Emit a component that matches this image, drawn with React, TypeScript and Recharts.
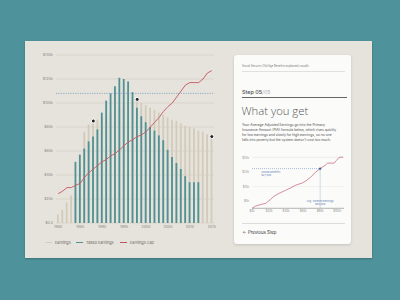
import React from "react";
import {
  ComposedChart,
  LineChart,
  Bar,
  Line,
  XAxis,
  YAxis,
  CartesianGrid,
  ReferenceLine,
  ReferenceDot,
  Label,
} from "recharts";

// career chart, values in $k
const years = [
  1980, 1981, 1982, 1983, 1984, 1985, 1986, 1987, 1988, 1989, 1990, 1991,
  1992, 1993, 1994, 1995, 1996, 1997, 1998, 1999, 2000, 2001, 2002, 2003,
  2004, 2005, 2006, 2007, 2008, 2009, 2010, 2011, 2012, 2013, 2014, 2015,
];
const earnings = [
  7, 11, 17, 23, 30, 50, 76, 82, 85, 86, 88, 90, 92, 94, 96, 98, 100, 101,
  103, 100, 98, 96, 94, 92, 90, 88, 86, 85, 83, 81, 80, 79, 77, 76, 74, 72,
];
const taxedEarnings = [
  null, null, null, null, 51, 57, 62, 68, 72, 78, 92, 102, 108, 114, 121, 120,
  118, 109, 96, 89, 84, 80, 77, 73, 69, 61, 55, 50, 45, 39, 34, 34, 34, null,
  null, null,
];
const earningsCap = [
  24.5, 26.5, 29.5, 29.5, 31.5, 33, 38, 42, 45, 48, 51, 53, 56, 58, 61, 64.5,
  67.5, 69.5, 72, 73.5, 76, 80, 84, 88, 93, 97, 100, 105, 110, 115, 117, 117,
  117, 120, 125, 127,
];
const yTicks = [0, 20, 40, 60, 80, 100, 120, 140];
const averageLevel = 108;
const markedYears = [1988, 1998, 2015];

// PIA formula chart, values in $k
const piaEarnings = [
  0, 4.4, 12.1, 16.1, 22, 25.9, 31.8, 39.6, 45.5, 51.4, 59.2, 63.2, 69, 75,
  80, 85.9, 88.6, 96.5, 99.2, 102.4, 107,
];
const piaBenefits = [
  0, 1.6, 2.9, 3.4, 6.2, 8.4, 10.3, 12.5, 14.1, 16, 17.5, 18.9, 21.6, 25.1,
  27.4, 29.7, 31.2, 31.2, 33.1, 35.3, 35.3,
];
const piaYTicks = [0, 5, 10, 15, 20, 25, 30, 35];
const piaXTicks = [0, 20, 40, 60, 80, 100];
const yourAverage = 80;
const yourBenefit = 27.4;

const careerData = years.map((year, i) => ({
  year,
  earnings: earnings[i],
  taxed: taxedEarnings[i],
  cap: earningsCap[i],
}));
const piaData = piaEarnings.map((x, i) => ({ x, y: piaBenefits[i] }));

const TEAL = "#4f9194";
const TAN = "#d2cbbb";
const RED = "#c4565b";
const BLUE = "#6e8fc0";
const FONT = 'Inter, "Noto Sans", Roboto, sans-serif';

const legendItems = [
  { label: "Earnings", color: "#d3cec4", left: 45 },
  { label: "Taxed Earnings", color: TEAL, left: 76 },
  { label: "Earnings Cap", color: RED, left: 120 },
];

const paragraph = [
  "Your Average Adjusted Earnings go into the Primary",
  "Insurance Amount (PIA) formula below, which rises quickly",
  "for low earnings and slowly for high earnings, so no one",
  "falls into poverty but the system doesn't cost too much.",
];

const money = (v: number) => "$" + Math.round(v * 1000).toLocaleString("en-US");

export default function App() {
  return (
    <div
      style={{
        position: "absolute",
        left: 0,
        top: 0,
        width: 400,
        height: 300,
        overflow: "hidden",
        background: "#4e939b",
        fontFamily: FONT,
      }}
    >
      <div
        style={{
          position: "absolute",
          left: 25,
          top: 41,
          width: 347,
          height: 217,
          background: "#e6e3dc",
          boxShadow: "0 1px 2px rgba(0,0,0,0.25)",
        }}
      />

      <div style={{ position: "absolute", left: 0, top: 0 }}>
        <ComposedChart
          width={230}
          height={250}
          data={careerData}
          margin={{ top: 55, right: 16, bottom: 17, left: 36 }}
        >
          <CartesianGrid xAxisId="a" vertical={false} stroke="#d3cfc5" strokeWidth={0.6} />
          <XAxis
            xAxisId="a"
            dataKey="year"
            interval={4}
            height={10}
            tickLine={false}
            axisLine={false}
            tickSize={0}
            tickMargin={2}
            tick={{ fontSize: 3.6, fill: "#8a877f", fontFamily: FONT }}
          />
          <XAxis xAxisId="b" dataKey="year" hide />
          <YAxis
            domain={[0, 140]}
            ticks={yTicks}
            width={20}
            tickLine={false}
            axisLine={false}
            tickSize={0}
            tickMargin={3}
            tick={{ fontSize: 3.6, fill: "#8a877f", fontFamily: FONT }}
            tickFormatter={(v: number) => (v === 0 ? "$0.0" : `$${v}k`)}
          />
          <Bar xAxisId="a" dataKey="earnings" fill={TAN} barSize={1.8} isAnimationActive={false} />
          <Bar xAxisId="b" dataKey="taxed" fill={TEAL} barSize={1.8} isAnimationActive={false} />
          <ReferenceLine
            xAxisId="a"
            y={averageLevel}
            stroke={BLUE}
            strokeWidth={0.7}
            strokeDasharray="1.2 1.2"
          />
          <Line
            xAxisId="a"
            dataKey="cap"
            type="linear"
            stroke={RED}
            strokeWidth={0.9}
            dot={false}
            isAnimationActive={false}
          />
          {markedYears.map((yr) => (
            <ReferenceDot
              key={yr}
              xAxisId="a"
              x={yr}
              y={earnings[years.indexOf(yr)]}
              r={2}
              fill="#262626"
              stroke="#ffffff"
              strokeWidth={1}
            />
          ))}
        </ComposedChart>
      </div>

      {legendItems.map((it) => (
        <div
          key={it.label}
          style={{
            position: "absolute",
            left: it.left,
            top: 240,
            height: 5,
            display: "flex",
            alignItems: "center",
            whiteSpace: "nowrap",
          }}
        >
          <div style={{ width: 7, height: 1.4, background: it.color, marginRight: 3 }} />
          <span style={{ fontSize: 3.8, color: "#6f6c66" }}>{it.label}</span>
        </div>
      ))}

      <div
        style={{
          position: "absolute",
          left: 234,
          top: 55,
          width: 117,
          height: 189,
          borderRadius: 3,
          background: "#fbfbfa",
          boxShadow: "0 1px 3px rgba(0,0,0,0.14)",
        }}
      />

      <div
        style={{
          position: "absolute",
          left: 242,
          top: 64,
          fontSize: 2.8,
          color: "#7a7a7a",
          whiteSpace: "nowrap",
          lineHeight: "4px",
        }}
      >
        Social Security Old Age Benefits explained visually
      </div>
      <div style={{ position: "absolute", left: 242, top: 71, width: 103, height: 0.5, background: "#e0e0e0" }} />

      <div
        style={{
          position: "absolute",
          left: 242,
          top: 89,
          fontSize: 5.4,
          lineHeight: "7px",
          whiteSpace: "nowrap",
          color: "#4a4a4a",
          fontWeight: 500,
        }}
      >
        Step 05<span style={{ color: "#b0b0b0", fontWeight: 400 }}>/05</span>
      </div>
      <div style={{ position: "absolute", left: 242, top: 97.3, width: 105, height: 0.7, background: "#666" }} />

      <div
        style={{
          position: "absolute",
          left: 241.5,
          top: 103,
          fontSize: 11.3,
          lineHeight: "15px",
          fontWeight: 300,
          fontFamily: '"Open Sans", Lato, sans-serif',
          color: "#555555",
          whiteSpace: "nowrap",
        }}
      >
        What you get
      </div>

      <div style={{ position: "absolute", left: 242, top: 123.2, color: "#505050" }}>
        {paragraph.map((line) => (
          <div key={line} style={{ fontSize: 3.4, lineHeight: "5px", whiteSpace: "nowrap" }}>
            {line}
          </div>
        ))}
      </div>

      <div style={{ position: "absolute", left: 230, top: 150 }}>
        <LineChart
          width={120}
          height={70}
          data={piaData}
          margin={{ top: 7.2, right: 6, bottom: 3.7, left: 10 }}
        >
          <CartesianGrid vertical={false} stroke="#e8e8e8" strokeWidth={0.5} />
          <XAxis
            dataKey="x"
            type="number"
            domain={[0, 108]}
            ticks={piaXTicks}
            height={8}
            tickLine={false}
            axisLine={{ stroke: "#8c8c8c", strokeWidth: 0.6 }}
            tickSize={0}
            tickMargin={2}
            tick={{ fontSize: 2.8, fill: "#8f8f8f", fontFamily: FONT }}
            tickFormatter={(v: number) => `$${v}k`}
          />
          <YAxis
            domain={[0, 35]}
            ticks={piaYTicks}
            width={12}
            tickLine={false}
            axisLine={false}
            tickSize={0}
            tickMargin={3}
            tick={{ fontSize: 2.8, fill: "#8f8f8f", fontFamily: FONT }}
            tickFormatter={(v: number) => `$${v}k`}
          />
          <ReferenceLine
            segment={[
              { x: 0, y: yourBenefit },
              { x: yourAverage, y: yourBenefit },
            ]}
            stroke={BLUE}
            strokeWidth={0.6}
            strokeDasharray="1 1"
          />
          <ReferenceLine
            segment={[
              { x: yourAverage, y: yourBenefit },
              { x: yourAverage, y: 0 },
            ]}
            stroke={BLUE}
            strokeWidth={0.6}
            strokeDasharray="1 1"
          />
          <Line
            dataKey="y"
            type="linear"
            stroke="#c8747c"
            strokeWidth={0.8}
            dot={false}
            isAnimationActive={false}
          />
          <ReferenceDot x={yourAverage} y={yourBenefit} r={1.2} fill="#3f63a0" stroke="none">
            <Label
              content={(p: any) => {
                const vb = p.viewBox || {};
                const cx = vb.x + (vb.width || 0) / 2;
                const cy = vb.y + (vb.height || 0) / 2;
                return (
                  <g fontFamily={FONT} fontSize={2.6} fill="#5d7fb3">
                    <text x={cx - 59} y={cy + 4}>Annual benefits</text>
                    <text x={cx - 59} y={cy + 7.6}>{money(yourBenefit)}</text>
                    <text x={cx} y={cy + 33} textAnchor="middle">Avg. indexed earnings</text>
                    <text x={cx} y={cy + 36.6} textAnchor="middle">{money(yourAverage)}</text>
                  </g>
                );
              }}
            />
          </ReferenceDot>
        </LineChart>
      </div>

      <div style={{ position: "absolute", left: 242, top: 222.5, width: 103, height: 0.5, background: "#dcdcdc" }} />
      <div
        style={{
          position: "absolute",
          left: 242.5,
          top: 230,
          fontSize: 4.4,
          lineHeight: "6px",
          color: "#333",
          whiteSpace: "nowrap",
        }}
      >
        ← Previous Step
      </div>
    </div>
  );
}
